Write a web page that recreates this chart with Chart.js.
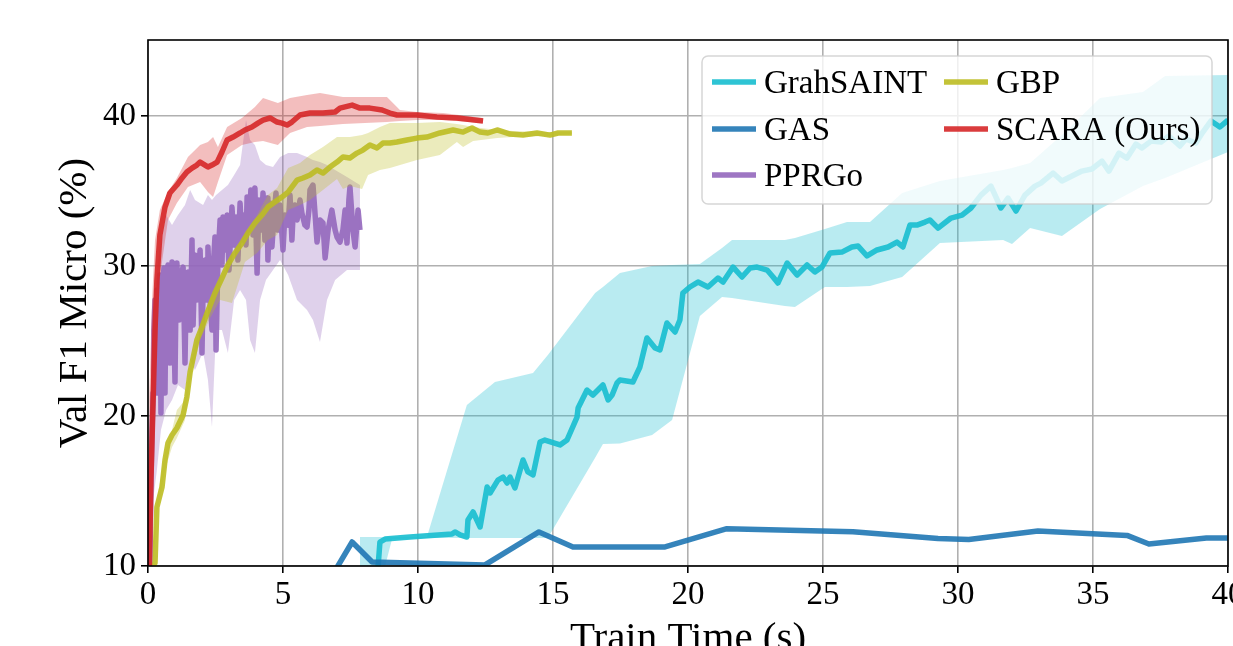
<!DOCTYPE html>
<html>
<head>
<meta charset="utf-8">
<script src="https://cdn.jsdelivr.net/npm/chart.js@4.4.1/dist/chart.umd.min.js"></script>
<style>
  html, body { margin: 0; padding: 0; background: #fff; overflow: hidden; }
  #wrap { width: 1300px; height: 700px; }
</style>
</head>
<body>
<div id="wrap"><canvas id="chart" width="1300" height="700"></canvas></div>
<script>
// tick labels
const xTicks = [0, 5, 10, 15, 20, 25, 30, 35, 40];
const yTicks = [10, 20, 30, 40];
const seriesNames = ['GrahSAINT', 'GAS', 'PPRGo', 'GBP', 'SCARA (Ours)'];

// GraphSAINT (mean line + min/max band)
const saintT = [8.52, 8.59, 8.78, 9.70, 11.26, 11.37, 11.56, 11.81, 11.85, 12.04, 12.30, 12.56, 12.67, 12.96, 13.15, 13.30, 13.41, 13.59, 13.89, 14.07, 14.26, 14.52, 14.70, 15.26, 15.52, 15.89, 15.93, 16.26, 16.48, 16.85, 17.04, 17.19, 17.37, 17.48, 17.96, 18.22, 18.48, 18.78, 18.96, 19.22, 19.52, 19.70, 19.81, 20.07, 20.37, 20.74, 21.11, 21.30, 21.67, 22.00, 22.30, 22.56, 22.93, 23.15, 23.33, 23.67, 24.04, 24.41, 24.70, 24.96, 25.26, 25.70, 26.07, 26.30, 26.63, 27.00, 27.41, 27.74, 27.96, 28.22, 28.48, 28.78, 28.96, 29.26, 29.74, 30.15, 30.48, 30.85, 31.22, 31.59, 31.85, 32.15, 32.48, 32.85, 33.07, 33.52, 33.85, 34.22, 34.59, 34.96, 35.33, 35.59, 35.96, 36.26, 36.59, 36.81, 37.15, 37.52, 37.81, 38.22, 38.44, 38.81, 39.07, 39.37, 39.70, 40.00];
const saintF1 = [9.93, 11.6, 11.8, 11.93, 12.13, 12.27, 12.07, 11.93, 13.07, 13.6, 12.6, 15.27, 14.87, 15.73, 15.93, 15.53, 15.93, 15.2, 17.07, 16.27, 16.07, 18.27, 18.4, 18.07, 18.4, 19.93, 20.53, 21.73, 21.4, 22.07, 21.07, 21.4, 22.2, 22.4, 22.27, 23.27, 25.2, 24.53, 24.4, 26.2, 25.6, 26.4, 28.2, 28.6, 28.93, 28.6, 29.2, 28.93, 29.93, 29.27, 29.87, 29.93, 29.73, 29.27, 28.87, 30.2, 29.4, 30.07, 29.6, 29.93, 30.87, 30.93, 31.27, 31.33, 30.67, 31.07, 31.27, 31.6, 31.27, 32.73, 32.73, 32.93, 33.07, 32.53, 33.2, 33.4, 33.87, 34.73, 35.33, 33.87, 34.53, 33.67, 34.73, 35.33, 35.53, 36.2, 35.67, 36.0, 36.33, 36.47, 37.0, 36.33, 37.53, 37.2, 38.13, 37.87, 38.33, 38.27, 38.67, 38.0, 38.47, 38.2, 38.93, 39.67, 39.27, 39.73];
const saintBandT = [7.85, 8.78, 9.04, 10.33, 11.81, 12.85, 14.26, 14.81, 16.56, 16.85, 17.48, 18.67, 19.41, 20.44, 21.26, 21.63, 23.59, 23.96, 25.07, 25.89, 26.74, 27.93, 29.33, 31.67, 32.0, 32.67, 33.85, 35.26, 36.85, 37.67, 40.0];
const saintBandHi = [11.93, 11.93, 11.93, 11.93, 20.73, 22.27, 22.87, 24.07, 28.2, 28.6, 29.53, 30.0, 30.07, 30.13, 31.2, 31.73, 31.73, 31.87, 32.47, 32.93, 32.93, 34.87, 35.67, 36.4, 36.53, 36.87, 38.73, 41.2, 41.6, 42.67, 42.73];
const saintBandLo = [10.0, 10.0, 11.8, 11.87, 11.87, 11.87, 11.87, 11.87, 17.22, 18.13, 18.17, 18.73, 19.73, 26.67, 27.93, 27.87, 27.33, 27.27, 28.6, 28.6, 28.67, 29.27, 31.53, 31.73, 31.47, 32.53, 32.0, 33.8, 35.33, 35.87, 37.6];

// GAS
const gasT = [6.9, 7.56, 8.30, 12.48, 14.48, 15.74, 19.15, 21.44, 26.11, 29.26, 30.4, 32.96, 36.26, 37.07, 39.2, 40.0];
const gasF1 = [9.6, 11.6, 10.27, 10.07, 12.27, 11.27, 11.27, 12.49, 12.29, 11.83, 11.77, 12.33, 12.04, 11.47, 11.87, 11.87];

// PPRGo
const pprgoT = [0.07, 0.11, 0.15, 0.19, 0.22, 0.26, 0.30, 0.33, 0.37, 0.44, 0.48, 0.52, 0.59, 0.63, 0.67, 0.74, 0.81, 0.85, 0.89, 0.96, 1.0, 1.04, 1.07, 1.15, 1.22, 1.30, 1.37, 1.41, 1.48, 1.56, 1.63, 1.67, 1.74, 1.81, 1.93, 2.0, 2.04, 2.11, 2.19, 2.22, 2.30, 2.37, 2.41, 2.48, 2.52, 2.59, 2.67, 2.74, 2.78, 2.85, 2.93, 3.0, 3.11, 3.19, 3.26, 3.33, 3.41, 3.48, 3.56, 3.63, 3.67, 3.74, 3.81, 3.89, 3.96, 4.04, 4.11, 4.19, 4.26, 4.33, 4.41, 4.44, 4.52, 4.59, 4.67, 4.74, 4.81, 4.89, 5.0, 5.07, 5.19, 5.26, 5.33, 5.37, 5.44, 5.52, 5.63, 5.70, 5.81, 5.89, 5.96, 6.0, 6.11, 6.19, 6.26, 6.37, 6.48, 6.56, 6.67, 6.81, 6.93, 7.0, 7.11, 7.22, 7.30, 7.37, 7.44, 7.48, 7.59, 7.67, 7.78, 7.85];
const pprgoF1 = [10.0, 15.73, 19.07, 21.53, 25.73, 27.73, 21.53, 28.4, 25.07, 29.4, 20.2, 27.73, 29.87, 21.53, 29.07, 30.07, 23.53, 27.73, 30.27, 25.73, 22.27, 28.4, 30.2, 26.4, 29.4, 29.93, 23.53, 27.73, 29.6, 25.73, 31.73, 26.07, 30.73, 27.73, 31.07, 24.2, 28.4, 30.4, 27.73, 31.27, 27.73, 25.73, 29.73, 31.93, 24.4, 30.4, 33.07, 30.07, 33.27, 31.07, 33.4, 29.73, 33.93, 31.4, 33.27, 30.4, 34.2, 31.73, 33.4, 31.4, 34.6, 32.4, 35.07, 32.07, 35.2, 29.53, 34.4, 32.4, 34.87, 31.73, 34.53, 30.4, 34.2, 31.27, 33.4, 34.87, 32.4, 34.07, 31.07, 33.4, 32.73, 34.73, 31.73, 33.27, 34.07, 33.07, 34.4, 33.53, 32.73, 32.6, 33.73, 35.07, 35.4, 33.4, 31.6, 33.07, 32.87, 30.53, 32.4, 33.73, 32.4, 31.93, 31.6, 32.4, 33.73, 31.53, 34.4, 35.27, 32.4, 31.27, 33.73, 32.4];
const pprgoBandT = [0.07, 0.19, 0.33, 0.48, 0.67, 0.89, 1.11, 1.37, 1.56, 1.74, 2.04, 2.22, 2.37, 2.52, 2.74, 2.96, 3.19, 3.41, 3.63, 3.78, 3.96, 4.15, 4.37, 4.63, 4.89, 5.19, 5.52, 5.89, 6.11, 6.37, 6.63, 6.93, 7.37, 7.85];
const pprgoBandHi = [10.0, 25.73, 29.73, 31.73, 33.4, 32.73, 33.4, 34.07, 35.07, 34.4, 34.07, 34.73, 34.4, 34.73, 35.07, 35.4, 36.07, 36.73, 39.73, 38.4, 38.07, 37.07, 36.73, 36.6, 37.27, 37.53, 37.53, 37.27, 37.07, 36.93, 36.73, 36.4, 35.93, 35.4];
const pprgoBandLo = [10.0, 14.4, 16.4, 19.07, 20.4, 21.07, 22.07, 21.73, 23.73, 23.07, 24.27, 22.4, 19.27, 25.73, 25.73, 24.2, 27.73, 28.4, 27.73, 25.07, 24.2, 27.73, 29.07, 29.73, 30.4, 29.4, 27.73, 27.07, 26.4, 24.93, 27.73, 29.07, 29.73, 29.73];

// GBP
const gbpT = [0.19, 0.26, 0.33, 0.52, 0.63, 0.74, 0.89, 1.07, 1.30, 1.44, 1.56, 1.67, 1.81, 2.0, 2.19, 2.48, 2.74, 2.96, 3.22, 3.48, 3.70, 3.96, 4.22, 4.44, 4.70, 4.96, 5.19, 5.52, 5.74, 6.0, 6.26, 6.48, 6.74, 7.0, 7.22, 7.48, 7.74, 7.96, 8.22, 8.48, 8.70, 8.96, 9.22, 9.59, 9.96, 10.33, 10.81, 11.30, 11.67, 12.0, 12.30, 12.59, 12.93, 13.41, 13.89, 14.41, 14.89, 15.19, 15.70];
const gbpF1 = [10.0, 10.2, 13.93, 15.27, 17.07, 18.2, 18.73, 19.2, 20.07, 21.27, 22.93, 23.87, 25.07, 25.93, 26.87, 28.2, 29.2, 30.07, 30.87, 31.53, 32.2, 32.87, 33.4, 33.93, 34.27, 34.6, 34.93, 35.73, 35.87, 36.07, 36.4, 36.2, 36.6, 36.93, 37.27, 37.2, 37.53, 37.73, 38.07, 37.87, 38.2, 38.2, 38.27, 38.4, 38.53, 38.6, 38.87, 39.07, 38.93, 39.2, 38.93, 38.87, 39.07, 38.8, 38.73, 38.87, 38.73, 38.87, 38.87];
const gbpBandT = [0.19, 0.33, 0.63, 0.89, 1.07, 1.37, 1.56, 1.93, 2.30, 2.67, 3.11, 3.59, 4.04, 4.44, 4.78, 5.19, 5.63, 6.0, 6.48, 7.0, 7.22, 7.48, 7.93, 8.15, 8.59, 8.96, 9.96, 10.81, 11.44, 11.67, 12.04, 12.93, 13.52, 14.78, 15.70];
const gbpBandHi = [11.4, 14.4, 17.53, 19.07, 20.4, 21.07, 23.4, 26.07, 27.87, 29.2, 30.73, 32.07, 33.4, 34.73, 35.2, 36.53, 36.87, 37.4, 37.93, 38.6, 38.6, 38.6, 38.73, 38.87, 39.27, 39.53, 39.53, 39.6, 39.47, 39.4, 39.27, 39.07, 39.0, 38.93, 38.93];
const gbpBandLo = [10.0, 13.4, 16.4, 17.93, 18.53, 19.73, 22.4, 25.07, 26.53, 27.73, 27.53, 30.27, 30.87, 31.73, 32.07, 33.73, 34.07, 34.4, 35.07, 35.8, 35.13, 35.33, 35.13, 36.07, 36.4, 36.53, 37.07, 37.4, 38.27, 37.93, 38.33, 38.53, 38.6, 38.67, 38.8];

// SCARA
const scaraT = [0.05, 0.11, 0.19, 0.26, 0.33, 0.44, 0.63, 0.81, 1.07, 1.26, 1.44, 1.63, 1.81, 1.93, 2.11, 2.22, 2.37, 2.56, 2.74, 2.93, 3.15, 3.41, 3.59, 3.85, 4.07, 4.26, 4.52, 4.78, 4.96, 5.15, 5.33, 5.63, 6.0, 6.48, 6.93, 7.11, 7.56, 7.85, 8.22, 8.67, 8.96, 9.22, 9.96, 10.70, 11.44, 12.41];
const scaraF1 = [10.0, 15.73, 21.07, 25.73, 29.07, 32.07, 33.93, 34.87, 35.4, 35.87, 36.27, 36.53, 36.73, 36.93, 36.73, 36.6, 36.73, 36.93, 37.6, 38.4, 38.6, 38.87, 39.07, 39.27, 39.53, 39.73, 39.87, 39.6, 39.53, 39.4, 39.6, 40.07, 40.2, 40.2, 40.27, 40.53, 40.73, 40.53, 40.53, 40.4, 40.2, 40.07, 40.07, 39.93, 39.87, 39.67];
const scaraBandT = [0.04, 0.15, 0.26, 0.44, 0.74, 1.07, 1.48, 1.93, 2.22, 2.41, 2.59, 2.93, 3.48, 3.96, 4.26, 4.81, 5.26, 5.89, 6.37, 7.22, 8.85, 9.33, 9.96, 10.93, 12.41];
const scaraBandHi = [21.07, 27.73, 31.73, 33.73, 34.93, 35.87, 37.27, 38.07, 38.27, 38.6, 37.93, 39.27, 39.87, 40.6, 41.2, 40.87, 41.2, 41.4, 41.53, 41.27, 41.27, 40.4, 40.27, 40.2, 39.87];
const scaraBandLo = [10.0, 14.4, 21.73, 29.27, 33.07, 34.2, 35.27, 35.6, 34.93, 34.6, 35.6, 37.4, 38.07, 38.27, 38.33, 38.07, 38.87, 39.27, 39.33, 39.47, 39.6, 39.67, 39.73, 39.73, 39.53];

const FONT = '"Liberation Serif", "Times New Roman", serif';
const colors = {
  saint: [23, 190, 207],
  gas: [31, 119, 180],
  pprgo: [148, 103, 189],
  gbp: [188, 189, 34],
  scara: [214, 39, 40]
};
const rgba = (c, a) => `rgba(${c[0]},${c[1]},${c[2]},${a})`;

function pts(xs, ys) {
  const n = Math.min(xs.length, ys.length);
  const out = [];
  for (let i = 0; i < n; i++) out.push({ x: xs[i], y: ys[i] });
  return out;
}

// datasets listed bottom -> top
const datasets = [];
function addBand(t, lo, hi, c) {
  datasets.push({ data: pts(t, lo), borderWidth: 0, fill: false, pointRadius: 0 });
  datasets.push({ data: pts(t, hi), borderWidth: 0, fill: '-1', backgroundColor: rgba(c, 0.3), pointRadius: 0 });
}
function addLine(label, t, v, c) {
  datasets.push({ label: label, data: pts(t, v), borderColor: rgba(c, 0.9), borderWidth: 5.5,
    fill: false, pointRadius: 0, borderJoinStyle: 'round', borderCapStyle: 'butt', isSeries: true });
}
addBand(saintBandT, saintBandLo, saintBandHi, colors.saint);
addLine(seriesNames[0], saintT, saintF1, colors.saint);
addLine(seriesNames[1], gasT, gasF1, colors.gas);
addBand(pprgoBandT, pprgoBandLo, pprgoBandHi, colors.pprgo);
addLine(seriesNames[2], pprgoT, pprgoF1, colors.pprgo);
addBand(gbpBandT, gbpBandLo, gbpBandHi, colors.gbp);
addLine(seriesNames[3], gbpT, gbpF1, colors.gbp);
addBand(scaraBandT, scaraBandLo, scaraBandHi, colors.scara);
addLine(seriesNames[4], scaraT, scaraF1, colors.scara);
datasets.forEach((d, i) => { d.order = datasets.length - i; d.clip = 0; });

// axes frame on all four sides
const frame = {
  id: 'frame',
  afterDatasetsDraw(chart) {
    const { ctx, chartArea: a } = chart;
    ctx.save();
    ctx.strokeStyle = '#000';
    ctx.lineWidth = 1.6;
    ctx.strokeRect(a.left, a.top, a.right - a.left, a.bottom - a.top);
    ctx.restore();
  }
};

// matplotlib-like legend box, 2 columns
const boxLegend = {
  id: 'boxLegend',
  afterDraw(chart) {
    const ctx = chart.ctx;
    const x0 = 702, y0 = 56, w = 510, h = 148, r = 6;
    ctx.save();
    ctx.beginPath();
    ctx.roundRect(x0, y0, w, h, r);
    ctx.fillStyle = 'rgba(255,255,255,0.8)';
    ctx.fill();
    ctx.strokeStyle = 'rgba(204,204,204,0.8)';
    ctx.lineWidth = 1.5;
    ctx.stroke();
    const items = chart.data.datasets.filter(d => d.isSeries);
    const order = seriesNames.map(n => items.find(d => d.label === n));
    const cols = [712, 944], rows = [82, 129, 175];
    ctx.font = '33px ' + FONT;
    ctx.fillStyle = '#000';
    ctx.textBaseline = 'alphabetic';
    order.forEach((d, i) => {
      const cx = cols[Math.floor(i / 3)], cy = rows[i % 3];
      ctx.beginPath();
      ctx.moveTo(cx, cy);
      ctx.lineTo(cx + 44, cy);
      ctx.strokeStyle = d.borderColor;
      ctx.lineWidth = 5.5;
      ctx.stroke();
      ctx.fillText(d.label, cx + 52, cy + 11);
    });
    ctx.restore();
  }
};

const gridOpts = { color: '#b0b0b0', lineWidth: 1.6, tickLength: 7, tickWidth: 1.6, tickColor: '#000' };

new Chart(document.getElementById('chart'), {
  type: 'line',
  data: { datasets: datasets },
  options: {
    responsive: false,
    animation: false,
    devicePixelRatio: 1,
    layout: { padding: { top: 40, right: 72, left: 0, bottom: 0 } },
    plugins: { legend: { display: false }, tooltip: { enabled: false } },
    elements: { line: { tension: 0 }, point: { radius: 0 } },
    scales: {
      x: {
        type: 'linear',
        min: 0,
        max: 40,
        afterBuildTicks: s => { s.ticks = xTicks.map(v => ({ value: v })); },
        afterFit: s => { s.height = 134; },
        grid: gridOpts,
        border: { display: false },
        ticks: { font: { family: FONT, size: 33 }, color: '#000', padding: 3, maxRotation: 0, autoSkip: false },
        title: { display: true, text: 'Train Time (s)', color: '#000',
          font: { family: FONT, size: 41 }, padding: { top: 0, bottom: 36 } }
      },
      y: {
        type: 'linear',
        min: 10,
        max: 45.07,
        afterBuildTicks: s => { s.ticks = yTicks.map(v => ({ value: v })); },
        afterFit: s => { s.width = 148; },
        grid: gridOpts,
        border: { display: false },
        ticks: { font: { family: FONT, size: 33 }, color: '#000', padding: 5, autoSkip: false },
        title: { display: true, text: 'Val F1 Micro (%)', color: '#000',
          font: { family: FONT, size: 41 }, padding: { top: 51, bottom: 0 } }
      }
    }
  },
  plugins: [frame, boxLegend]
});
</script>
</body>
</html>
